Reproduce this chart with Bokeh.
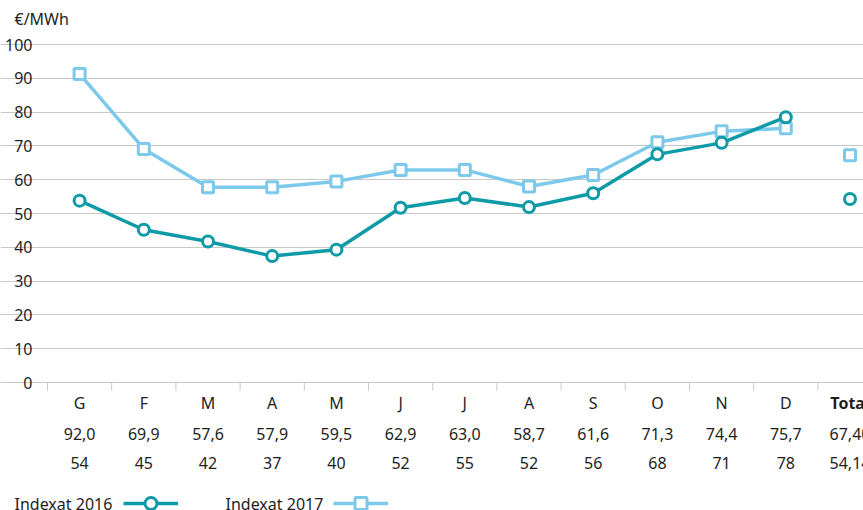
from bokeh.plotting import figure
from bokeh.models import ColumnDataSource, FixedTicker, Range1d, Label, Legend, LegendItem
from bokeh.embed import file_html
from bokeh.resources import INLINE
from bokeh.core.properties import value

# ---------------- data ----------------
months = ["G", "F", "M", "A", "M", "J", "J", "A", "S", "O", "N", "D"]
total_label = "Total"
# plotted values
idx2017 = [91.3, 69.1, 57.8, 57.8, 59.5, 62.9, 62.9, 58.0, 61.4, 71.1, 74.3, 75.2]
idx2016 = [53.8, 45.2, 41.7, 37.4, 39.3, 51.7, 54.6, 51.9, 56.0, 67.5, 70.9, 78.5]
total2017 = 67.2
total2016 = 54.3
# values printed in the table under the chart
table2017 = ["92,0", "69,9", "57,6", "57,9", "59,5", "62,9", "63,0", "58,7", "61,6", "71,3", "74,4", "75,7", "67,40"]
table2016 = ["54", "45", "42", "37", "40", "52", "55", "52", "56", "68", "71", "78", "54,14"]
y_ticks = [0, 10, 20, 30, 40, 50, 60, 70, 80, 90, 100]
unit_label = "€/MWh"
series_names = ["Indexat 2016", "Indexat 2017"]

# ---------------- style ----------------
C16 = "#0f9aa8"
C17 = "#7cc9ec"
GRID = "#c8c8c8"
TXT = "#1e1e1e"
FONT = "Noto Sans"
FS = "16px"

n = len(months)
xs = list(range(n))
col_x = xs + [n]

p = figure(width=863, height=510, output_backend="svg", toolbar_location=None,
           x_range=Range1d(-1.232, 12.21), y_range=Range1d(-37.87, 113.02),
           x_axis_location=None,
           min_border_left=0, min_border_right=0, min_border_top=0, min_border_bottom=0)
p.outline_line_color = None
p.background_fill_color = "white"
p.border_fill_color = "white"

p.xgrid.visible = False
p.ygrid.ticker = FixedTicker(ticks=y_ticks)
p.ygrid.grid_line_color = GRID
p.ygrid.grid_line_width = 1
p.ygrid.bounds = (-0.5, 20)

ya = p.yaxis[0]
ya.fixed_location = -0.5
ya.ticker = FixedTicker(ticks=y_ticks)
ya.axis_line_color = None
ya.major_tick_line_color = None
ya.minor_tick_line_color = None
ya.major_tick_out = 0
ya.major_tick_in = 0
ya.major_label_standoff = 15
ya.major_label_text_font = FONT
ya.major_label_text_font_size = FS
ya.major_label_text_color = TXT

# separator ticks between categories
bounds = [i - 0.5 for i in range(n + 2)]
p.segment(x0=bounds, y0=[0] * len(bounds), x1=bounds, y1=[-2.4] * len(bounds),
          line_color=GRID, line_width=1)

# series 2017
l17 = p.line(xs, idx2017, line_color=C17, line_width=3.5)
s17 = p.scatter(col_x, idx2017 + [total2017], marker="square", size=11,
                fill_color="white", line_color=C17, line_width=3)
# series 2016
l16 = p.line(xs, idx2016, line_color=C16, line_width=3.5)
s16 = p.scatter(col_x, idx2016 + [total2016], marker="circle", size=11,
                fill_color="white", line_color=C16, line_width=3)

# data table under the chart
row_months = months + [total_label]
month_styles = ["normal"] * n + ["bold"]
plain_styles = ["normal"] * (n + 1)

for texts, sty, yrow in ((row_months, month_styles, -5.92),
                         (table2017, plain_styles, -15.09),
                         (table2016, plain_styles, -23.96)):
    src = ColumnDataSource(dict(x=col_x, y=[yrow] * len(col_x), t=texts, s=sty))
    p.text(x="x", y="y", text="t", source=src, text_font=value(FONT), text_font_size=FS,
           text_font_style="s", text_align="center", text_baseline="middle", text_color=TXT)

# unit label
p.add_layout(Label(x=14, y=492, x_units="screen", y_units="screen", text=unit_label,
                   text_font=FONT, text_font_size=FS, text_color=TXT, text_baseline="middle"))

# legend (text first, then sample)
for name, rends, tx, gx in ((series_names[0], [l16, s16], 14, 123),
                            (series_names[1], [l17, s17], 225, 333)):
    p.add_layout(Label(x=tx, y=7, x_units="screen", y_units="screen", text=name,
                       text_font=FONT, text_font_size=FS, text_color=TXT, text_baseline="middle"))
    leg = Legend(items=[LegendItem(label="", renderers=rends)], location=(gx, -8),
                 orientation="horizontal", padding=0, margin=0, spacing=0,
                 border_line_color=None, background_fill_alpha=0,
                 glyph_width=55, glyph_height=30, label_standoff=0, label_width=0,
                 label_text_font_size="1px")
    p.add_layout(leg)

open("out.html", "w").write(file_html(p, INLINE))
